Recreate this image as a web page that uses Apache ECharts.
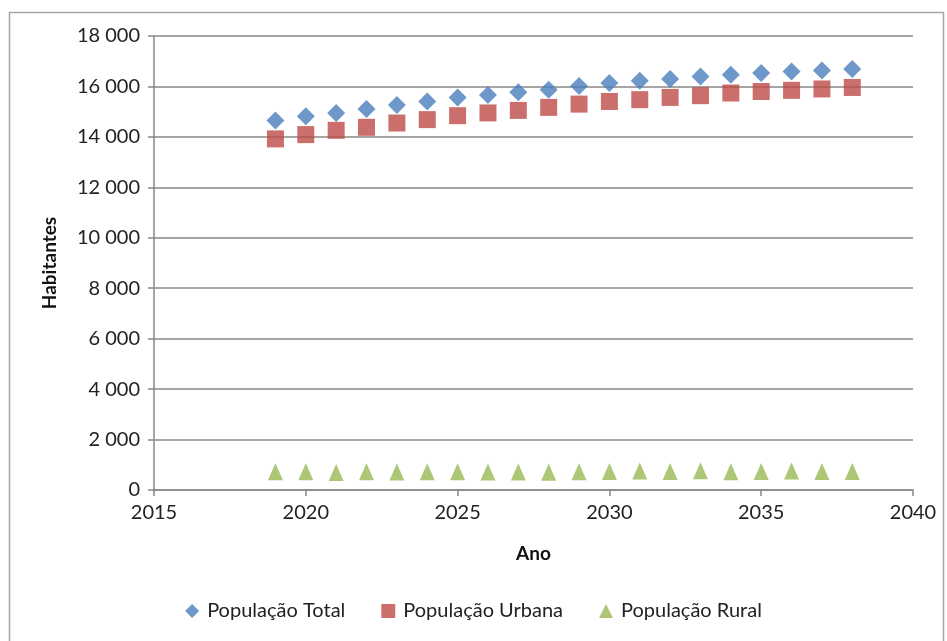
<!DOCTYPE html>
<html lang="pt">
<head>
    <meta charset="UTF-8">
    <title>População</title>
    <script src="https://cdn.jsdelivr.net/npm/echarts@6/dist/echarts.min.js"></script>
    <style>
        html, body { margin: 0; padding: 0; background: #fff; }
        #chart1 { width: 947px; height: 641px; }
    </style>
</head>
<body>
<div id="chart1"></div>
<script type="text/javascript">
    // dados
    var anos = [2019, 2020, 2021, 2022, 2023, 2024, 2025, 2026, 2027, 2028,
        2029, 2030, 2031, 2032, 2033, 2034, 2035, 2036, 2037, 2038];
    var popTotal = [14645, 14815, 14950, 15105, 15265, 15405, 15565, 15660, 15765, 15870,
        16020, 16140, 16230, 16300, 16395, 16460, 16530, 16595, 16635, 16690];
    var popUrbana = [13920, 14090, 14260, 14380, 14550, 14685, 14840, 14950, 15050, 15170,
        15300, 15405, 15475, 15565, 15635, 15740, 15800, 15845, 15900, 15960];
    var popRural = [725, 725, 690, 725, 715, 720, 725, 710, 715, 700,
        720, 735, 755, 735, 760, 720, 730, 750, 735, 730];

    var nomes = ['População Total', 'População Urbana', 'População Rural'];

    function fmt(v) {
        return String(v).replace(/\B(?=(\d{3})+(?!\d))/g, ' ');
    }

    function pares(vals) {
        return anos.map(function (a, i) { return [a, vals[i]]; });
    }

    var myChart1 = echarts.init(document.getElementById('chart1'));
    var fonte = 'Lato, "Open Sans", sans-serif';

    myChart1.setOption({
        animation: false,
        textStyle: { fontFamily: fonte },
        graphic: [{
            type: 'rect',
            shape: { x: 9.5, y: 12.5, width: 934, height: 640 },
            style: { fill: 'none', stroke: '#a6a6a6', lineWidth: 1.5 },
            silent: true
        }],
        grid: { left: 154, right: 34, top: 36, bottom: 151 },
        legend: {
            data: nomes,
            bottom: 15,
            left: 'center',
            itemGap: 36,
            itemWidth: 14,
            itemHeight: 14,
            textStyle: { fontSize: 20, color: '#222', fontFamily: fonte, padding: [0, 0, 0, 3] }
        },
        xAxis: {
            type: 'value',
            min: 2015,
            max: 2040,
            interval: 5,
            name: 'Ano',
            nameLocation: 'middle',
            nameGap: 54,
            nameTextStyle: { fontSize: 19, fontWeight: 'bold', color: '#111' },
            axisLine: { lineStyle: { color: '#888', width: 1.5 } },
            axisTick: { show: true, length: 6, lineStyle: { color: '#888', width: 1.5 } },
            axisLabel: { fontSize: 20, color: '#222', margin: 13, formatter: function (v) { return String(v); } },
            splitLine: { show: false }
        },
        yAxis: {
            type: 'value',
            min: 0,
            max: 18000,
            interval: 2000,
            name: 'Habitantes',
            nameLocation: 'middle',
            nameGap: 95,
            nameTextStyle: { fontSize: 19, fontWeight: 'bold', color: '#111' },
            axisLine: { show: true, lineStyle: { color: '#888', width: 1.5 } },
            axisTick: { show: true, length: 6, lineStyle: { color: '#888', width: 1.5 } },
            axisLabel: { fontSize: 20, color: '#222', margin: 14, formatter: fmt },
            splitLine: { lineStyle: { color: '#888', width: 1.5 } }
        },
        series: [{
            name: nomes[0],
            type: 'scatter',
            symbol: 'diamond',
            symbolSize: 18,
            itemStyle: { color: '#4a7ebb' },
            data: pares(popTotal)
        }, {
            name: nomes[1],
            type: 'scatter',
            symbol: 'rect',
            symbolSize: 17,
            itemStyle: { color: '#be4b48' },
            data: pares(popUrbana)
        }, {
            name: nomes[2],
            type: 'scatter',
            symbol: 'triangle',
            symbolSize: [15, 17],
            itemStyle: { color: '#98b954' },
            data: pares(popRural)
        }]
    });
</script>
</body>
</html>
